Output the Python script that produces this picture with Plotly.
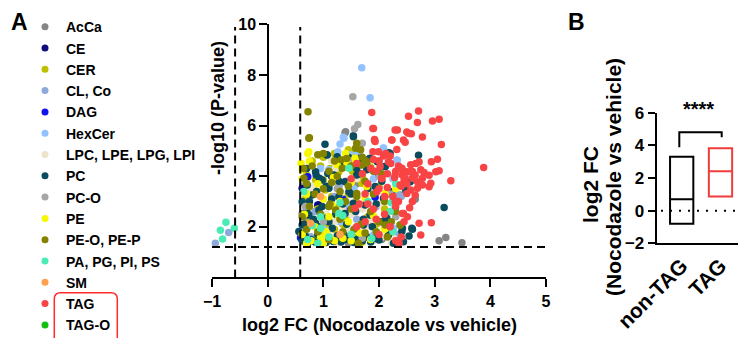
import plotly.graph_objects as go

W, H = 738, 338

# ---------------- data: legend ----------------
legend_labels = ["AcCa", "CE", "CER", "CL, Co", "DAG", "HexCer", "LPC, LPE, LPG, LPI",
                 "PC", "PC-O", "PE", "PE-O, PE-P", "PA, PG, PI, PS", "SM", "TAG", "TAG-O"]
legend_colors = ["#858585", "#0c0c80", "#bfbf00", "#8eaadb", "#1212ee", "#92c2ff", "#ebe3cc",
                 "#0b4b5e", "#a6a6a6", "#f7f700", "#838300", "#4aecb4", "#ffa050", "#f84444", "#10c010"]

# ---------------- data: volcano (log2 FC, -log10 P) ----------------
acca_x = [3.08, 3.20, 3.49, 2.65, 2.38, 1.39, 2.00, 1.60, 1.10, 1.80, 2.05, 0.70, 1.45,
          1.40, 2.65, 0.62]
acca_y = [1.45, 1.58, 1.37, 3.09, 3.26, 5.72, 4.60, 3.70, 2.80, 2.20, 1.50, 2.30, 1.35,
          5.76, 3.13, 2.53]

ce_x = [0.63, 0.90, 1.15, 0.62, 0.92]
ce_y = [3.52, 2.86, 4.00, 3.52, 2.86]

cer_x = [1.45, 1.58, 1.00, 1.20, 0.80, 1.35, 0.95, 1.65, 1.12, 1.52, 0.70, 1.85, 1.00, 1.28, 1.70,
         0.82, 1.45, 1.15, 2.00, 0.68, 1.60, 0.90, 1.25, 1.80, 1.40, 0.75, 1.05, 2.10, 1.55, 0.85,
         1.20, 1.95, 2.20, 0.65, 1.70, 1.35,
         0.95, 1.19, 0.86, 1.28, 1.51, 1.04, 0.71, 1.39, 1.69, 0.98]
cer_y = [5.05, 4.95, 4.75, 4.90, 4.60, 4.50, 4.40, 4.55, 4.30, 4.20, 4.05, 4.35, 3.85, 3.65, 3.95,
         3.55, 3.30, 3.20, 3.60, 3.10, 2.95, 2.70, 2.75, 2.40, 2.40, 2.20, 2.10, 2.70, 1.60, 1.55,
         1.90, 2.10, 1.75, 1.75, 1.40, 2.10,
         4.84, 4.64, 3.85, 4.18, 3.45, 3.45, 2.60, 2.07, 3.72, 1.81]

cl_x = [-0.70, -0.94, 0.65, 0.85, 1.05, 1.40, 1.60, 1.80, 2.00, 2.35, 0.75, 1.20, 1.95, 2.40,
        0.77, 1.28, 2.35]
cl_y = [1.77, 1.35, 3.80, 2.60, 2.30, 3.80, 2.30, 1.60, 4.20, 1.70, 1.60, 3.20, 2.80, 3.20,
        1.61, 3.59, 3.26]

dag_x = [0.72, 1.93, 0.59, 1.35, 1.48]
dag_y = [3.98, 3.17, 1.57, 3.10, 2.73]

hexcer_x = [1.69, 1.84, 1.36, 2.08, 2.33, 1.30, 1.47, 1.65, 1.26, 2.18, 0.95, 1.10, 1.55, 1.90,
            2.25, 0.70, 1.30, 1.75, 2.20, 2.24, 1.00, 2.15,
            1.37, 1.60, 2.32, 2.08, 1.10, 1.48, 1.90, 2.26]
hexcer_y = [8.29, 7.10, 5.54, 5.11, 4.63, 5.27, 4.85, 4.95, 4.97, 4.83, 4.30, 3.60, 3.50, 3.90,
            3.90, 2.60, 2.20, 2.00, 1.70, 2.62, 1.90, 3.30,
            5.50, 4.97, 4.64, 5.10, 4.25, 2.86, 1.68, 1.94]

lpc_x = [0.95, 1.10, 1.25, 1.40, 1.60, 1.75, 1.90, 2.05, 2.22, 2.26, 0.88, 1.05, 1.20, 1.50, 1.70,
         1.85, 2.00, 1.30, 0.80, 1.60, 1.15, 1.35, 2.15,
         1.22, 1.87, 1.46, 2.23, 0.77, 1.28]
lpc_y = [1.50, 1.70, 1.35, 1.65, 1.45, 1.90, 1.45, 1.60, 1.35, 1.55, 2.30, 2.50, 2.20, 2.50, 2.70,
         2.25, 2.90, 3.30, 3.60, 3.90, 4.60, 2.70, 2.30,
         4.31, 2.27, 1.81, 1.35, 3.52, 1.41]

pc_x = [0.62, 0.68, 0.72, 0.78, 0.85, 0.90, 0.95, 1.00, 1.05, 1.12, 1.18, 1.25, 1.32, 1.40, 1.48,
        1.55, 1.62, 1.70, 1.78, 1.85, 1.92, 2.00, 2.26, 2.44, 2.54, 2.42, 2.60,
        0.65, 0.70, 0.75, 0.82, 0.88, 0.92, 0.98, 1.05, 1.10, 1.15, 1.22, 1.28, 1.35, 1.42, 1.50,
        1.58, 1.65, 1.72, 1.80, 1.88, 1.95, 2.05, 2.12, 2.20, 2.26, 2.48, 2.54, 3.17,
        0.87, 0.93, 1.08, 1.03, 1.06, 1.54, 1.83, 1.97, 2.18, 2.71, 2.11, 1.30, 0.70, 1.45, 1.60,
        1.54, 1.07, 1.25, 1.66, 1.84, 2.20, 0.86, 0.98, 1.19, 1.39, 1.60, 1.78, 1.99, 2.11, 1.93,
        2.23, 2.56, 0.62, 0.80, 0.92, 0.74, 0.62, 0.86, 1.04, 1.16, 1.39, 1.54, 1.75, 1.84, 2.08,
        2.05, 2.29, 2.41, 2.59, 1.60, 1.93, 2.17, 1.37, 0.95, 0.68, 0.56, 1.28, 1.46, 1.10, 0.71,
        2.14, 1.72]
pc_y = [1.45, 1.62, 1.35, 1.50, 1.40, 1.70, 1.45, 1.60, 1.38, 1.55, 1.42, 1.65, 1.40, 1.50, 1.62,
        1.38, 1.52, 1.45, 1.60, 1.40, 1.55, 1.48, 1.35, 1.41, 1.64, 1.94, 1.90,
        2.10, 2.60, 3.00, 2.30, 3.40, 2.00, 2.80, 3.60, 2.20, 3.10, 2.50, 3.80, 2.90, 2.10, 3.30,
        2.60, 4.10, 2.30, 3.50, 2.00, 2.90, 3.80, 2.40, 3.30, 3.03, 3.45, 3.78, 2.76,
        4.05, 3.92, 4.11, 5.26, 4.85, 5.60, 4.69, 4.57, 4.93, 4.83, 4.38, 4.50, 4.30, 4.75, 4.30,
        5.56, 4.84, 4.77, 4.71, 4.71, 4.90, 4.18, 3.85, 4.05, 3.78, 4.05, 4.25, 4.11, 4.38, 3.59,
        3.39, 3.78, 2.99, 3.26, 2.66, 2.47, 2.07, 2.14, 2.34, 1.94, 2.53, 2.93, 2.86, 2.47, 3.13,
        2.20, 2.66, 1.81, 1.94, 1.48, 1.54, 1.68, 1.68, 1.48, 1.41, 1.81, 3.19, 3.39, 3.52, 3.65,
        2.34, 2.07]

pco_x = [1.53, 1.62, 1.56, 1.70, 1.50, 2.00, 2.20, 1.25, 1.00, 1.70, 2.30, 0.68, 1.92]
pco_y = [7.14, 6.04, 5.88, 5.30, 4.60, 4.00, 3.30, 3.50, 2.20, 1.55, 2.40, 2.80, 5.42]

pe_x = [0.72, 0.60, 0.75, 1.25, 1.40, 1.42, 1.58, 0.62, 0.90, 1.18, 1.50, 2.33, 2.30, 0.70, 1.00,
        1.30, 1.75, 0.66, 0.85, 1.10, 1.45, 1.90, 0.62, 0.78, 0.95, 1.05, 1.20, 1.35, 1.50, 1.65,
        2.10, 0.70, 1.00, 1.85,
        0.74, 0.62, 1.16, 1.28, 1.60, 1.01, 1.13, 1.78, 2.11, 2.32, 1.57]
pe_y = [4.90, 4.50, 4.60, 4.45, 4.90, 4.55, 4.60, 3.90, 3.70, 3.95, 3.75, 3.65, 3.50, 3.30, 3.10,
        3.00, 3.15, 2.50, 2.00, 2.40, 2.20, 2.45, 1.70, 1.45, 1.60, 1.80, 1.45, 1.55, 1.45, 1.75,
        1.90, 1.35, 1.35, 1.50,
        4.97, 4.25, 2.86, 2.40, 2.01, 1.61, 1.54, 3.59, 3.32, 3.65, 4.71]

peo_x = [0.725, 0.75, 1.60, 1.58, 1.67, 0.90, 1.00, 1.20, 1.32, 1.42, 1.70, 1.77, 0.65, 0.80, 1.10,
         1.25, 1.50, 1.90, 2.05, 0.70, 0.85, 1.00, 1.15, 1.30, 1.45, 1.60, 1.75, 1.90, 2.10, 0.75,
         0.95, 1.12, 1.30, 1.50, 1.68, 1.85, 2.00, 2.22, 2.38, 2.30, 0.70, 0.90, 1.10, 1.35, 1.55,
         1.75, 1.95, 2.15, 0.62, 1.40,
         0.74, 1.69, 1.78, 1.34, 0.65, 1.10, 1.60, 2.38, 1.63, 2.11, 1.22]
peo_y = [6.55, 5.52, 5.30, 5.10, 5.05, 4.85, 4.90, 4.60, 4.65, 4.70, 4.75, 4.60, 4.30, 4.40, 4.20,
         4.00, 4.40, 4.20, 4.10, 3.70, 3.30, 3.50, 3.75, 3.40, 3.60, 3.20, 3.80, 3.30, 3.00, 2.80,
         2.50, 2.90, 2.30, 2.70, 2.10, 2.60, 2.20, 2.20, 2.07, 2.60, 1.90, 1.80, 1.50, 1.80, 1.90,
         1.75, 1.80, 1.60, 2.40, 3.00,
         5.50, 4.44, 4.51, 4.31, 3.92, 2.80, 3.32, 2.07, 1.35, 2.07, 2.66]

pa_x = [-0.75, -0.60, -0.85, -0.81, 0.65, 0.80, 0.72, 0.95, 1.10, 1.35, 1.50, 1.30, 2.22, 2.30,
        2.25, 1.80, 0.90, 1.46, 1.28, 2.20, 0.95, 1.87]
pa_y = [2.18, 1.94, 1.86, 1.52, 3.40, 2.05, 1.50, 2.40, 1.60, 2.45, 1.70, 2.95, 2.95, 3.70,
        1.80, 3.00, 1.35, 4.31, 2.53, 2.60, 1.94, 1.54]

sm_x = [0.77, 1.30, 0.95]
sm_y = [2.14, 1.70, 3.20]

tag_x = [1.87, 1.89, 1.92, 2.71, 2.53, 2.69, 2.96, 3.08, 2.33, 2.50, 2.58, 2.78, 2.23, 2.47, 3.12,
         2.32, 2.20, 2.21, 2.57, 2.66, 2.72, 2.94, 3.05, 3.88, 2.42, 2.51, 2.60, 2.75, 2.81, 2.90,
         3.02, 3.08, 3.29, 2.42, 2.45, 2.60, 2.78, 2.69, 2.78, 2.90, 2.93, 2.57, 2.69, 2.42, 2.51,
         2.72, 2.94, 2.75, 2.36,
         1.89, 1.90, 2.00, 2.08, 2.12, 1.85, 1.95, 2.05, 2.15, 2.30, 2.35, 2.28, 2.40, 2.50, 1.80,
         1.70, 2.00, 2.15, 2.25, 2.35, 1.60, 1.50, 2.10, 1.75, 1.90, 2.30, 2.10, 2.45, 1.65, 1.95,
         2.20, 2.40, 1.60, 2.00, 2.30, 1.80, 2.60, 2.55,
         1.90, 2.29, 2.53, 1.93, 2.23, 2.44, 1.99, 2.17, 2.41, 2.56, 2.65, 2.47, 2.02, 2.29, 2.05,
         2.38, 1.96, 2.50, 2.65, 2.29, 2.44, 2.35, 1.57, 1.75]
tag_y = [6.52, 5.89, 5.45, 6.58, 6.37, 6.12, 6.18, 6.25, 5.83, 5.75, 5.68, 5.55, 5.43, 5.34, 5.25,
         5.06, 4.80, 4.50, 4.45, 4.50, 4.56, 4.57, 4.67, 4.34, 4.25, 4.18, 4.19, 4.25, 4.15, 4.04,
         4.18, 4.22, 3.82, 4.05, 3.85, 3.92, 3.92, 3.78, 3.65, 3.58, 3.72, 3.45, 3.52, 2.53, 2.40,
         2.14, 2.16, 1.68, 1.35,
         4.97, 4.66, 4.60, 4.80, 4.90, 4.30, 4.20, 3.90, 4.10, 4.20, 4.40, 3.95, 3.60, 3.70, 3.70,
         4.10, 3.50, 3.55, 3.20, 3.00, 4.50, 3.90, 3.20, 3.30, 2.70, 2.80, 2.50, 2.20, 2.90, 2.30,
         2.00, 1.60, 2.00, 1.70, 1.45, 2.90, 3.00, 2.75,
         5.89, 5.83, 5.70, 5.37, 5.43, 5.43, 4.97, 4.57, 4.31, 4.18, 4.05, 3.92, 4.38, 4.05, 3.92,
         3.65, 3.39, 3.32, 3.26, 2.99, 2.53, 1.41, 2.73, 2.20]

tago_x = []
tago_y = []

class_x = [acca_x, ce_x, cer_x, cl_x, dag_x, hexcer_x, lpc_x, pc_x, pco_x, pe_x, peo_x, pa_x, sm_x, tag_x, tago_x]
class_y = [acca_y, ce_y, cer_y, cl_y, dag_y, hexcer_y, lpc_y, pc_y, pco_y, pe_y, peo_y, pa_y, sm_y, tag_y, tago_y]

fc_cut = 0.585      # log2(1.5)
p_cut = 1.2         # -log10 P threshold line

# ---------------- data: panel B ----------------
box_groups = ["non-TAG", "TAG"]
box_min = [-0.80, 0.86]
box_median = [0.70, 2.41]
box_max = [3.30, 3.82]
box_colors = ["#000000", "#f03c3c"]


def fx(p):  # pixel x -> paper fraction
    return p / W


def fy(p):  # pixel y (from top) -> paper fraction
    return 1 - p / H


# ---------------- figure ----------------
FONT = "Liberation Sans, Arial, sans-serif"
fig = go.Figure()

for lab, col, xs, ys in zip(legend_labels, legend_colors, class_x, class_y):
    fig.add_trace(go.Scatter(x=xs, y=ys, mode="markers", name=lab, cliponaxis=False,
                             marker=dict(color=col, size=7.5, line=dict(width=0)),
                             xaxis="x", yaxis="y", hoverinfo="skip"))

# legend markers drawn on a helper axis scaled in pixels
leg_y0, leg_dy = 26.7, 21.3
fig.add_trace(go.Scatter(x=[45] * len(legend_labels),
                         y=[leg_y0 + i * leg_dy for i in range(len(legend_labels))],
                         mode="markers", marker=dict(color=legend_colors, size=7, line=dict(width=0)),
                         xaxis="x3", yaxis="y3", hoverinfo="skip", cliponaxis=False))

for g, lo, med, hi, col in zip(box_groups, box_min, box_median, box_max, box_colors):
    fig.add_trace(go.Box(x=[g], q1=[lo], median=[med], q3=[hi], lowerfence=[lo], upperfence=[hi],
                         width=0.6, whiskerwidth=0, fillcolor="rgba(0,0,0,0)",
                         line=dict(color=col, width=2), xaxis="x2", yaxis="y2",
                         boxpoints=False, hoverinfo="skip"))

tick_font = dict(family=FONT, size=16, color="black", weight="bold")
fig.update_layout(
    width=W, height=H, margin=dict(l=0, r=0, t=0, b=0, pad=0, autoexpand=False),
    paper_bgcolor="white", plot_bgcolor="rgba(0,0,0,0)", showlegend=False,
    hovermode=False,
    xaxis=dict(domain=[fx(212), fx(546)], range=[-1, 5], anchor="y", showline=True,
               linecolor="black", linewidth=2, ticks="outside", ticklen=8, tickwidth=2,
               tickcolor="black", tickvals=[-1, 0, 1, 2, 3, 4, 5], showgrid=False,
               zeroline=False, tickfont=tick_font, automargin=False),
    yaxis=dict(domain=[fy(277.4), fy(24.4)], range=[0, 10], anchor="free",
               position=fx(268.3), showline=True, linecolor="black", linewidth=2,
               ticks="outside", ticklen=8, tickwidth=2, tickcolor="black",
               tickvals=[2, 4, 6, 8, 10], showgrid=False, zeroline=False, tickfont=tick_font,
               automargin=False),
    xaxis2=dict(domain=[fx(656.7), 1.0], range=[-0.644, 1.451], anchor="y2", type="category",
                showline=True, linecolor="black", linewidth=2, ticks="", showgrid=False,
                zeroline=False, tickangle=-45, automargin=False,
                tickfont=dict(family=FONT, size=21, color="black", weight="bold")),
    yaxis2=dict(domain=[fy(243.3), fy(112.7)], range=[-2, 6], anchor="x2",
                showline=True, linecolor="black", linewidth=2, ticks="outside", ticklen=7,
                tickwidth=2, tickcolor="black", tickvals=[-2, 0, 2, 4, 6], showgrid=False,
                zeroline=False, automargin=False,
                tickfont=dict(family=FONT, size=17, color="black", weight="bold")),
    xaxis3=dict(domain=[0, 1], range=[0, W], visible=False, anchor="y3",
                fixedrange=True, automargin=False),
    yaxis3=dict(domain=[0, 1], range=[H, 0], visible=False, anchor="x3",
                fixedrange=True, automargin=False),
)

dash = dict(color="black", width=2, dash="8px,5px")
shapes = [
    dict(type="line", xref="x", yref="y", x0=-1, x1=5, y0=p_cut, y1=p_cut, line=dash),
    dict(type="line", xref="x", yref="y", x0=-fc_cut, x1=-fc_cut, y0=0, y1=9.9, line=dash),
    dict(type="line", xref="x", yref="y", x0=fc_cut, x1=fc_cut, y0=0, y1=9.9, line=dash),
    # dotted zero line in panel B
    dict(type="line", xref="x3", yref="y2", x0=661, x1=736, y0=0, y1=0,
         line=dict(color="black", width=2, dash="2px,7px")),
    # significance bracket
    dict(type="path", xref="x3", yref="y2", path="M 679.3,3.88 L 679.3,4.8 L 721.7,4.8 L 721.7,4.5",
         line=dict(color="black", width=2)),
    # red rounded box around TAG / TAG-O
    dict(type="path", xref="x3", yref="y3",
         path="M 54.3,345 L 54.3,299 Q 54.3,292.7 60.5,292.7 L 111,292.7 Q 117.3,292.7 117.3,299 L 117.3,345",
         line=dict(color="#ff2a2a", width=1.5)),
]
fig.update_layout(shapes=shapes)

ann = []
for i, lab in enumerate(legend_labels):
    ann.append(dict(x=fx(64), y=fy(leg_y0 + i * leg_dy + 0.5), xref="paper", yref="paper",
                    text=lab, showarrow=False, xanchor="left", yanchor="middle",
                    font=dict(family=FONT, size=14, color="black", weight="bold")))
big = dict(family=FONT, size=23, color="black", weight="bold")
ann += [
    dict(x=fx(19.5), y=fy(21.5), xref="paper", yref="paper", text="A", showarrow=False,
         xanchor="center", yanchor="middle", font=big),
    dict(x=fx(576.5), y=fy(22.5), xref="paper", yref="paper", text="B", showarrow=False,
         xanchor="center", yanchor="middle", font=big),
    dict(x=fx(379.5), y=fy(325), xref="paper", yref="paper",
         text="log2 FC (Nocodazole vs vehicle)", showarrow=False, xanchor="center",
         yanchor="middle", font=dict(family=FONT, size=18, color="black", weight="bold")),
    dict(x=fx(218), y=fy(108), xref="paper", yref="paper", text="-log10 (P-value)",
         textangle=-90, showarrow=False, xanchor="center", yanchor="middle",
         font=dict(family=FONT, size=18, color="black", weight="bold")),
    dict(x=fx(590), y=fy(185), xref="paper", yref="paper", text="log2 FC",
         textangle=-90, showarrow=False, xanchor="center", yanchor="middle",
         font=dict(family=FONT, size=21, color="black", weight="bold")),
    dict(x=fx(613), y=fy(177), xref="paper", yref="paper", text="(Nocodazole vs vehicle)",
         textangle=-90, showarrow=False, xanchor="center", yanchor="middle",
         font=dict(family=FONT, size=21, color="black", weight="bold")),
    dict(x=fx(698), y=fy(109), xref="paper", yref="paper", text="****", showarrow=False,
         xanchor="center", yanchor="middle",
         font=dict(family=FONT, size=20, color="black", weight="bold")),
]
fig.update_layout(annotations=ann)

# the page would otherwise keep the browser's default 8px body margin
fig.write_html("out.html", config={"displayModeBar": False, "staticPlot": True},
               post_script="document.body.style.margin='0';document.body.style.overflow='hidden';")
